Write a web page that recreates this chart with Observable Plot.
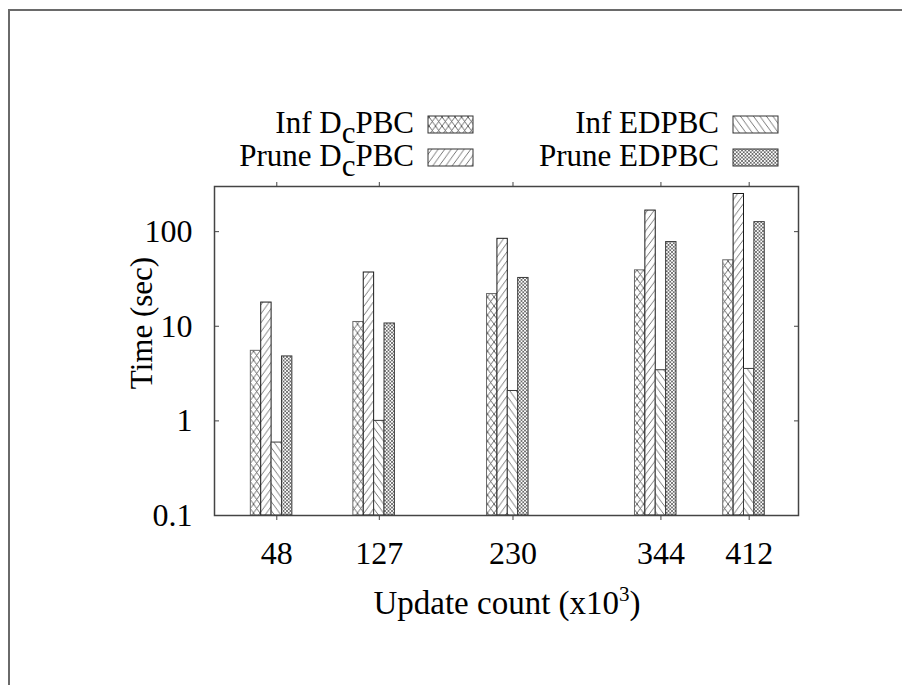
<!DOCTYPE html>
<html>
<head>
<meta charset="utf-8">
<script src="https://cdn.jsdelivr.net/npm/d3@7"></script>
<script src="https://cdn.jsdelivr.net/npm/@observablehq/plot@0.6"></script>
<style>
  body { margin: 0; background: #fff; }
  #wrap { position: relative; width: 902px; height: 685px; overflow: hidden; background: #fff; }
  #edge { position: absolute; left: 8px; top: 9px; right: -10px; bottom: -10px;
          border-top: 2px solid #6a6a6a; border-left: 2px solid #6a6a6a; pointer-events: none; }
</style>
</head>
<body>
<div id="wrap"><div id="edge"></div></div>
<script>
// Update counts (thousands) on the x axis
const counts = [48, 127, 230, 344, 412];
// Running time in seconds for each method
const infDcPBC   = [5.5, 11.1, 21.9, 39.0, 49.8];
const pruneDcPBC = [17.8, 37.0, 84.0, 167, 250];
const infEDPBC   = [0.59, 1.0, 2.07, 3.43, 3.54];
const pruneEDPBC = [4.8, 10.7, 32.4, 77.6, 126];
const yTicks = [0.1, 1, 10, 100];

// Legend entries: [prefix, subscript, suffix]
const seriesLabels = [
  ["Inf D", "c", "PBC"],
  ["Prune D", "c", "PBC"],
  ["Inf EDPBC", "", ""],
  ["Prune EDPBC", "", ""]
];
const seriesValues = [infDcPBC, pruneDcPBC, infEDPBC, pruneEDPBC];

const patternIds = ["pat-cross", "pat-fwd", "pat-back", "pat-dense"];
const outline = ["#6a6a6a", "#1a1a1a", "#3a3a3a", "#3a3a3a"];

// Each group holds four bars side by side; slot widths are in x-units
const slotWidth = 8, firstSlot = -20;

const rows = counts.flatMap((c, j) =>
  seriesValues.map((vals, i) => ({count: c, series: i, value: vals[j]})));

const font = "'Liberation Serif', 'Times New Roman', Times, serif";

const chart = Plot.plot({
  width: 902,
  height: 685,
  marginTop: 186,
  marginRight: 104,
  marginBottom: 170,
  marginLeft: 214,
  style: {fontFamily: font, fontSize: "31px", background: "transparent", overflow: "visible"},
  x: {domain: [0, 450]},
  y: {type: "log", domain: [0.1, 300]},
  marks: [
    ...seriesValues.map((_, i) => Plot.rect(rows.filter(r => r.series === i), {
      x1: d => d.count + firstSlot + i * slotWidth,
      x2: d => d.count + firstSlot + (i + 1) * slotWidth,
      y1: () => 0.1,
      y2: "value",
      fill: `url(#${patternIds[i]})`,
      stroke: outline[i],
      strokeWidth: 1
    })),
    Plot.frame({stroke: "#444", strokeWidth: 1.5}),
    Plot.axisY({anchor: "left", ticks: yTicks, tickSize: -5, tickPadding: 27,
                tickFormat: d => String(d), label: null, fontSize: 32, stroke: "#444"}),
    Plot.axisY({anchor: "right", ticks: yTicks, tickSize: -5, tickFormat: () => "",
                label: null, stroke: "#444"}),
    Plot.axisX({anchor: "bottom", ticks: counts, tickSize: 5, tickPadding: 21,
                tickFormat: d => String(d), label: null, fontSize: 32, stroke: "#444"}),
    Plot.axisX({anchor: "top", ticks: counts, tickSize: 5, tickFormat: () => "",
                label: null, stroke: "#444"})
  ]
});

document.getElementById("wrap").prepend(chart);

const svg = d3.select(chart);

// Fill patterns for the bars and legend samples
const defs = svg.insert("defs", ":first-child");
function hatch(id, w, h, d, stroke, sw) {
  const p = defs.append("pattern").attr("id", id).attr("patternUnits", "userSpaceOnUse")
    .attr("width", w).attr("height", h);
  p.append("rect").attr("width", w).attr("height", h).attr("fill", "#fff");
  p.append("path").attr("d", d).attr("stroke", stroke).attr("stroke-width", sw).attr("fill", "none");
}
hatch("pat-cross", 6.5, 9, "M0,0L6.5,9M0,9L6.5,0M-1,-1.4L1,1.4M5.5,10.4L7.5,7.6", "#4a4a4a", 0.8);
hatch("pat-fwd", 6.5, 9, "M0,9L6.5,0M-1,1.4L1,-1.4M5.5,10.4L7.5,7.6", "#555", 0.8);
hatch("pat-back", 6.5, 9, "M0,0L6.5,9M-1,7.6L1,10.4M5.5,-1.4L7.5,1.4", "#555", 0.8);
hatch("pat-dense", 3.5, 3.5, "M0,0L3.5,3.5M0,3.5L3.5,0", "#444", 0.7);

// Axis titles
svg.append("text")
  .attr("transform", "translate(141,323) rotate(-90)")
  .attr("text-anchor", "middle").attr("dy", "0.35em")
  .attr("font-family", font).attr("font-size", 31)
  .text("Time (sec)");

const xl = svg.append("text")
  .attr("x", 507).attr("y", 614)
  .attr("text-anchor", "middle")
  .attr("font-family", font).attr("font-size", 33);
xl.append("tspan").text("Update count (x10");
xl.append("tspan").attr("dy", -13).attr("font-size", 21).text("3");
xl.append("tspan").attr("dy", 13).text(")");

// Legend, two columns of two entries
const legendPos = [
  {tx: 414, sx: 428, sy: 116},
  {tx: 414, sx: 428, sy: 149},
  {tx: 719, sx: 733, sy: 116},
  {tx: 719, sx: 733, sy: 149}
];
seriesLabels.forEach((lab, i) => {
  const pos = legendPos[i];
  const t = svg.append("text")
    .attr("x", pos.tx).attr("y", pos.sy + 17)
    .attr("text-anchor", "end")
    .attr("font-family", font).attr("font-size", 31);
  t.append("tspan").text(lab[0]);
  if (lab[1]) {
    t.append("tspan").attr("dy", 10).text(lab[1]);
    t.append("tspan").attr("dy", -10).text(lab[2]);
  }
  svg.append("rect")
    .attr("x", pos.sx).attr("y", pos.sy).attr("width", 45).attr("height", 17)
    .attr("fill", `url(#${patternIds[i]})`)
    .attr("stroke", "#333").attr("stroke-width", 1);
});
</script>
</body>
</html>
